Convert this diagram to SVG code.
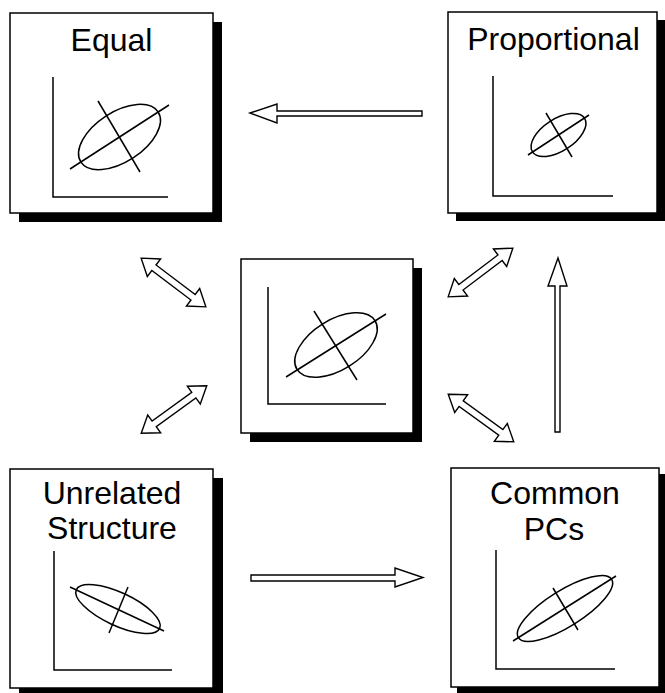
<svg xmlns="http://www.w3.org/2000/svg" xmlns:xlink="http://www.w3.org/1999/xlink" width="665" height="693" viewBox="0 0 665 693">
<style>
.shadow{fill:#000}
.box{fill:#fff;stroke:#000;stroke-width:1.5}
.ln{fill:none;stroke:#000;stroke-width:1.5}
.lbl{font-family:"Liberation Sans",Arial,sans-serif;font-size:32px;fill:#000;text-anchor:middle}
.arr{fill:#fff;stroke:#000;stroke-width:1.4;stroke-linejoin:miter}
</style>
<defs>
<polygon id="dbl" class="arr" points="-40.5,0 -24.5,-11 -24.5,-3.5 24.5,-3.5 24.5,-11 40.5,0 24.5,11 24.5,3.5 -24.5,3.5 -24.5,11"/>
</defs>
<rect width="665" height="693" fill="#fff"/>
<g id="equal">
<rect class="shadow" x="19" y="22" width="203" height="200"/>
<rect class="box" x="10" y="13" width="203" height="200"/>
<text class="lbl" x="111.5" y="51">Equal</text>
<path class="ln" d="M53,77 V197 H168"/>
<ellipse class="ln" cx="119.5" cy="137" rx="46" ry="25" transform="rotate(-33 119.5 137)"/>
<line class="ln" x1="70" y1="169" x2="169" y2="105"/>
<line class="ln" x1="98" y1="101" x2="140" y2="172"/>
</g>
<g id="proportional">
<rect class="shadow" x="456" y="20" width="210" height="201"/>
<rect class="box" x="448" y="12" width="209" height="201"/>
<text class="lbl" x="553.5" y="50">Proportional</text>
<path class="ln" d="M493,76 V196 H613"/>
<ellipse class="ln" cx="558.5" cy="135" rx="31" ry="16" transform="rotate(-33 558.5 135)"/>
<line class="ln" x1="528" y1="155" x2="589" y2="115"/>
<line class="ln" x1="546" y1="113" x2="572" y2="157"/>
</g>
<g id="center">
<rect class="shadow" x="250" y="268" width="172" height="174"/>
<rect class="box" x="241" y="259" width="172" height="174"/>
<path class="ln" d="M268,287 V404 H386"/>
<ellipse class="ln" cx="336" cy="345" rx="46" ry="25" transform="rotate(-32 336 345)"/>
<line class="ln" x1="286" y1="377" x2="386" y2="314"/>
<line class="ln" x1="314" y1="311" x2="357" y2="380"/>
</g>
<g id="unrelated">
<rect class="shadow" x="19" y="478" width="204" height="219"/>
<rect class="box" x="10" y="469" width="203" height="219"/>
<text class="lbl" x="112" y="504">Unrelated</text>
<text class="lbl" x="112" y="539">Structure</text>
<path class="ln" d="M54,551 V670 H172"/>
<ellipse class="ln" cx="118" cy="609" rx="46" ry="16.5" transform="rotate(25 118 609)"/>
<line class="ln" x1="70" y1="587" x2="164" y2="631"/>
<line class="ln" x1="128" y1="587" x2="109" y2="633"/>
</g>
<g id="common-pcs">
<rect class="shadow" x="457" y="474" width="210" height="219"/>
<rect class="box" x="451" y="468" width="208" height="219"/>
<text class="lbl" x="555" y="504">Common</text>
<text class="lbl" x="554" y="540">PCs</text>
<path class="ln" d="M496,550 V669 H615"/>
<ellipse class="ln" cx="565" cy="608.5" rx="55" ry="18" transform="rotate(-32 565 608.5)"/>
<line class="ln" x1="513" y1="641" x2="616" y2="576"/>
<line class="ln" x1="553" y1="588" x2="578" y2="630"/>
</g>
<g id="connectors">
<polygon class="arr" points="250,113 277,104 277,111 422,111 422,116 277,116 277,123"/>
<polygon class="arr" points="251,575 395,575 395,568 423,577.5 395,587 395,581 251,581"/>
<polygon class="arr" points="558,258 567,286 560,286 560,432 555,432 555,286 548,286"/>
<use xlink:href="#dbl" transform="translate(173.5,282.5) rotate(37)"/>
<use xlink:href="#dbl" transform="translate(174,409.5) rotate(-36)"/>
<use xlink:href="#dbl" transform="translate(480.5,272.5) rotate(-37)"/>
<use xlink:href="#dbl" transform="translate(481,418) rotate(36)"/>
</g>
</svg>
